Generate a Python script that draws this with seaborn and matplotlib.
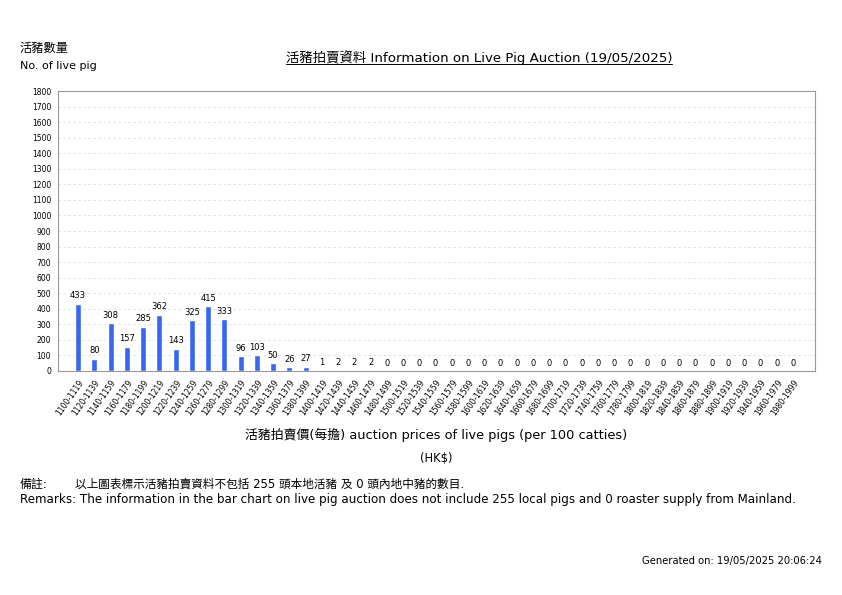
import matplotlib

matplotlib.use("Agg")

import matplotlib.pyplot as plt
import numpy as np
import pandas as pd
import seaborn as sns
from matplotlib.lines import Line2D

sns.set_theme(style="white")
plt.rcParams["font.family"] = ["DejaVu Sans", "Noto Sans CJK TC"]
plt.rcParams["text.color"] = "black"
plt.rcParams["xtick.color"] = "black"
plt.rcParams["ytick.color"] = "black"

# price bands (HK$ per 100 catties)
lower = list(range(1100, 2000, 20))
bands = [f"{p}-{p + 19}" for p in lower]

# number of live pigs auctioned in each band
pigs = [433, 80, 308, 157, 285, 362, 143, 325, 415, 333,
        96, 103, 50, 26, 27, 1, 2, 2, 2] + [0] * 26

y_ticks = list(range(0, 1900, 100))

df = pd.DataFrame({"band": bands, "pigs": pigs})

fig = plt.figure(figsize=(8.42, 5.95), dpi=100)
ax = fig.add_axes([0.069, 0.3765, 0.899, 0.4705])

sns.barplot(data=df, x="band", y="pigs", color="#3866f2", saturation=1,
            width=0.37, ax=ax)

for i, v in enumerate(pigs):
    ax.text(i, v + 22, str(v), ha="center", va="bottom", fontsize=6,
            color="black")

ax.set_ylim(0, 1800)
ax.set_yticks(y_ticks)
ax.set_yticklabels([str(t) for t in y_ticks], fontsize=5.5)
ax.set_xlim(-1.23, len(bands) + 0.35)
ax.set_xticks(range(len(bands)))
ax.set_xticklabels(bands, rotation=55, ha="right", rotation_mode="anchor",
                   fontsize=5.5)
ax.tick_params(axis="both", length=3, width=0.6, color="#888888", pad=2)
ax.set_xlabel("")
ax.set_ylabel("")
ax.yaxis.grid(True, linestyle=(0, (3, 3)), color="#dddddd", linewidth=0.6)
ax.set_axisbelow(True)
for s in ax.spines.values():
    s.set_color("#999999")
    s.set_linewidth(0.8)

W, H = 842, 595


def ft(x, y, s, **kw):
    return fig.text(x / W, 1 - y / H, s, va="center", **kw)


ft(20, 48, "活豬數量", fontsize=8.8)
ft(20, 66, "No. of live pig", fontsize=8)
title = ft(479, 58, "活豬拍賣資料 Information on Live Pig Auction (19/05/2025)",
           fontsize=9.6, ha="center")
ft(436, 435, "活豬拍賣價(每擔) auction prices of live pigs (per 100 catties)",
   fontsize=9.3, ha="center")
ft(436, 458, "(HK$)", fontsize=8.3, ha="center")
ft(20, 484, "備註:", fontsize=8.6)
ft(75, 484, "以上圖表標示活豬拍賣資料不包括 255 頭本地活豬 及 0 頭內地中豬的數目.",
   fontsize=8.4)
ft(20, 500, "Remarks: The information in the bar chart on live pig auction does "
   "not include 255 local pigs and 0 roaster supply from Mainland.",
   fontsize=8.6)
ft(822, 561, "Generated on: 19/05/2025 20:06:24", fontsize=7.2, ha="right")

# underline the title
fig.canvas.draw()
bb = title.get_window_extent().transformed(fig.transFigure.inverted())
fig.add_artist(Line2D([bb.x0, bb.x1], [bb.y0 + 0.002, bb.y0 + 0.002],
                      transform=fig.transFigure, color="black", linewidth=0.7))

fig.savefig("out.png", dpi=100)
